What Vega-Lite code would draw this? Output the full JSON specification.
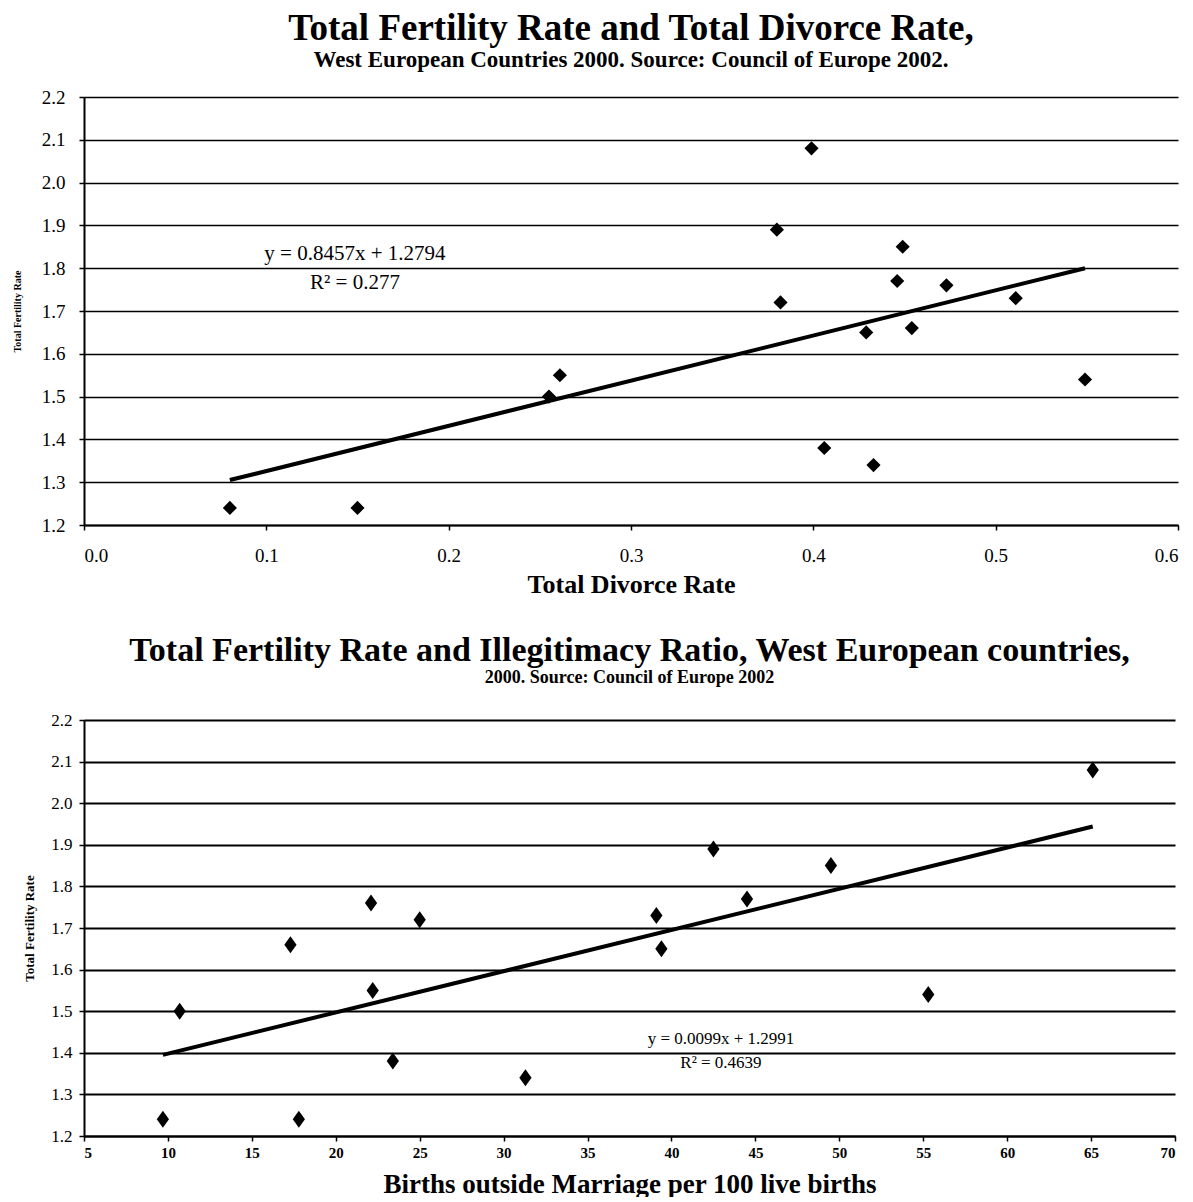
{
  "$schema": "https://vega.github.io/schema/vega-lite/v6.json",
  "background": "white",
  "padding": {"left": 12, "top": 10, "right": 2, "bottom": 0},
  "spacing": 37,
  "config": {
    "font": "Liberation Serif",
    "view": {"stroke": null},
    "axis": {"labelColor": "black", "titleColor": "black", "domainColor": "black", "tickColor": "black", "gridColor": "black", "labelFont": "Liberation Serif", "titleFont": "Liberation Serif"},
    "title": {"font": "Liberation Serif", "color": "black", "subtitleColor": "black", "subtitleFont": "Liberation Serif"}
  },
  "datasets": {
    "divorce": [
      {"d": 0.08, "tfr": 1.24}, {"d": 0.15, "tfr": 1.24}, {"d": 0.255, "tfr": 1.50}, {"d": 0.261, "tfr": 1.55},
      {"d": 0.380, "tfr": 1.89}, {"d": 0.382, "tfr": 1.72}, {"d": 0.399, "tfr": 2.08}, {"d": 0.406, "tfr": 1.38},
      {"d": 0.429, "tfr": 1.65}, {"d": 0.433, "tfr": 1.34}, {"d": 0.446, "tfr": 1.77}, {"d": 0.449, "tfr": 1.85},
      {"d": 0.454, "tfr": 1.66}, {"d": 0.473, "tfr": 1.76}, {"d": 0.511, "tfr": 1.73}, {"d": 0.549, "tfr": 1.54}
    ],
    "trendTop": [{"d": 0.08, "tfr": 1.305}, {"d": 0.549, "tfr": 1.80}],
    "illeg": [
      {"b": 9.7, "tfr": 1.24}, {"b": 10.7, "tfr": 1.50}, {"b": 17.3, "tfr": 1.66}, {"b": 17.8, "tfr": 1.24},
      {"b": 22.1, "tfr": 1.76}, {"b": 22.2, "tfr": 1.55}, {"b": 23.4, "tfr": 1.38}, {"b": 25.0, "tfr": 1.72},
      {"b": 31.3, "tfr": 1.34}, {"b": 39.1, "tfr": 1.73}, {"b": 39.4, "tfr": 1.65}, {"b": 42.5, "tfr": 1.89},
      {"b": 44.5, "tfr": 1.77}, {"b": 49.5, "tfr": 1.85}, {"b": 55.3, "tfr": 1.54}, {"b": 65.1, "tfr": 2.08}
    ],
    "trendBot": [{"b": 9.7, "tfr": 1.395}, {"b": 65.1, "tfr": 1.944}]
  },
  "vconcat": [
    {
      "width": 1094,
      "height": 428,
      "title": {
        "text": "Total Fertility Rate and Total Divorce Rate,",
        "subtitle": "West European Countries 2000. Source: Council of Europe 2002.",
        "fontSize": 37, "fontWeight": "bold",
        "subtitleFontSize": 23, "subtitleFontWeight": "bold", "subtitlePadding": 1,
        "offset": 15, "anchor": "middle", "frame": "group"
      },
      "layer": [
        {
          "data": {"name": "divorce"},
          "mark": {"type": "point", "shape": "diamond", "filled": true, "color": "black", "size": 200, "opacity": 1},
          "encoding": {
            "x": {"field": "d", "type": "quantitative", "scale": {"domain": [0, 0.6], "nice": false, "zero": false},
              "axis": {"title": "Total Divorce Rate", "titleFontSize": 26, "titleFontWeight": "bold", "titlePadding": 6,
                "values": [0, 0.1, 0.2, 0.3, 0.4, 0.5, 0.6], "format": ".1f", "labelFontSize": 19, "labelPadding": 16,
                "tickSize": 5, "tickWidth": 1.5, "grid": false, "domainWidth": 2}},
            "y": {"field": "tfr", "type": "quantitative", "scale": {"domain": [1.2, 2.2], "nice": false, "zero": false},
              "axis": {"title": "Total Fertility Rate", "titleFontSize": 10, "titleFontWeight": "bold", "titlePadding": 19,
                "values": [1.2, 1.3, 1.4, 1.5, 1.6, 1.7, 1.8, 1.9, 2.0, 2.1, 2.2], "format": ".1f", "labelFontSize": 19, "labelPadding": 14,
                "tickSize": 5, "tickWidth": 1.5, "grid": true, "gridWidth": 1.5, "domainWidth": 2}}
          }
        },
        {
          "data": {"name": "trendTop"},
          "mark": {"type": "line", "color": "black", "strokeWidth": 4},
          "encoding": {"x": {"field": "d", "type": "quantitative"}, "y": {"field": "tfr", "type": "quantitative"}}
        },
        {
          "data": {"values": [{}]},
          "mark": {"type": "text", "fontSize": 21, "font": "Liberation Serif", "color": "black", "align": "center", "baseline": "middle"},
          "encoding": {"x": {"datum": 0.1486}, "y": {"datum": 1.833}, "text": {"value": "y = 0.8457x + 1.2794"}}
        },
        {
          "data": {"values": [{}]},
          "mark": {"type": "text", "fontSize": 21, "font": "Liberation Serif", "color": "black", "align": "center", "baseline": "middle"},
          "encoding": {"x": {"datum": 0.1486}, "y": {"datum": 1.765}, "text": {"value": "R² = 0.277"}}
        }
      ]
    },
    {
      "width": 1091,
      "height": 416,
      "title": {
        "text": "Total Fertility Rate and Illegitimacy Ratio, West European countries,",
        "subtitle": "2000. Source: Council of Europe 2002",
        "fontSize": 34, "fontWeight": "bold",
        "subtitleFontSize": 18, "subtitleFontWeight": "bold", "subtitlePadding": 1,
        "offset": 24, "anchor": "middle", "frame": "group"
      },
      "layer": [
        {
          "data": {"name": "illeg"},
          "mark": {"type": "point", "shape": "M0,-1L0.72,0L0,1L-0.72,0Z", "filled": true, "color": "black", "size": 289, "opacity": 1},
          "encoding": {
            "x": {"field": "b", "type": "quantitative", "scale": {"domain": [5, 70], "nice": false, "zero": false},
              "axis": {"title": "Births outside Marriage per 100 live births", "titleFontSize": 27, "titleFontWeight": "bold", "titlePadding": 11,
                "values": [5, 10, 15, 20, 25, 30, 35, 40, 45, 50, 55, 60, 65, 70], "format": "d", "labelFontSize": 15, "labelFontWeight": "bold", "labelPadding": 4,
                "tickSize": 5, "tickWidth": 1.5, "grid": false, "domainWidth": 2}},
            "y": {"field": "tfr", "type": "quantitative", "scale": {"domain": [1.2, 2.2], "nice": false, "zero": false},
              "axis": {"title": "Total Fertility Rate", "titleFontSize": 13, "titleFontWeight": "bold", "titlePadding": 14,
                "values": [1.2, 1.3, 1.4, 1.5, 1.6, 1.7, 1.8, 1.9, 2.0, 2.1, 2.2], "format": ".1f", "labelFontSize": 17, "labelPadding": 7,
                "tickSize": 5, "tickWidth": 1.5, "grid": true, "gridWidth": 2, "domainWidth": 2}}
          }
        },
        {
          "data": {"name": "trendBot"},
          "mark": {"type": "line", "color": "black", "strokeWidth": 4},
          "encoding": {"x": {"field": "b", "type": "quantitative"}, "y": {"field": "tfr", "type": "quantitative"}}
        },
        {
          "data": {"values": [{}]},
          "mark": {"type": "text", "fontSize": 17, "font": "Liberation Serif", "color": "black", "align": "center", "baseline": "middle"},
          "encoding": {"x": {"datum": 42.95}, "y": {"datum": 1.432}, "text": {"value": "y = 0.0099x + 1.2991"}}
        },
        {
          "data": {"values": [{}]},
          "mark": {"type": "text", "fontSize": 17, "font": "Liberation Serif", "color": "black", "align": "center", "baseline": "middle"},
          "encoding": {"x": {"datum": 42.95}, "y": {"datum": 1.376}, "text": {"value": "R² = 0.4639"}}
        }
      ]
    }
  ]
}
